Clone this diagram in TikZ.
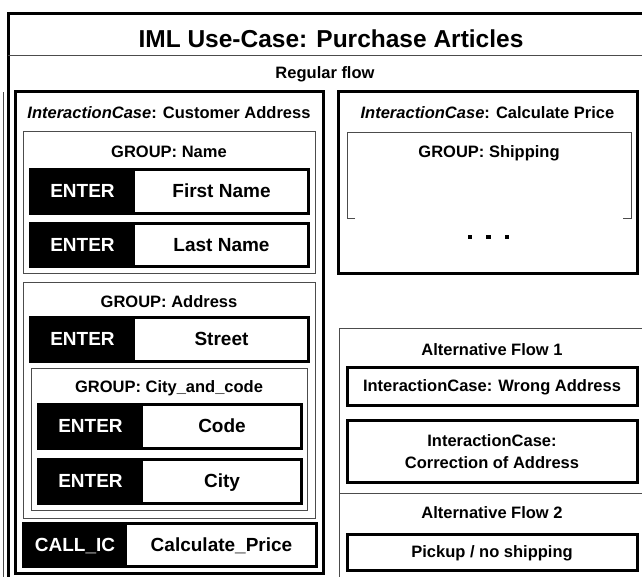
\documentclass[tikz,border=0pt]{standalone}
\usepackage{fontspec}
\setmainfont{Liberation Sans}
\begin{document}
\begin{tikzpicture}[x=1pt, y=-1pt, line join=miter,
  thickbox/.style={draw=black, line width=3pt},
  thinbox/.style={draw=black!70, line width=1pt},
  lbl/.style={font=\fontsize{16.5}{22}\selectfont\bfseries, inner sep=0pt,
    text height=11.8pt, text depth=0pt},
  titletxt/.style={font=\fontsize{24.5}{28}\selectfont\bfseries, inner sep=0pt,
    text height=17.5pt, text depth=0pt},
  fieldtxt/.style={font=\fontsize{19}{22}\selectfont\bfseries, inner sep=0pt,
    text height=13.6pt, text depth=0pt},
]
\newcommand\uifield[8]{% name, x1, y1, x-split, x2, y2, keyword, value
  \fill[black] (#2,#3) rectangle (#4,#6);
  \draw[thickbox] (#2,#3) rectangle (#5,#6);
  \node[fieldtxt, text=white] (#1-kw) at ({(#2+#4)/2},{(#3+#6)/2}) {#7};
  \node[fieldtxt] (#1-val) at ({(#4+#5)/2},{(#3+#6)/2}) {#8};
}
\useasboundingbox (0,0) rectangle (642,576);
\clip (0,0) rectangle (642,576);

% outer use-case frame
\draw[thickbox] (8,600) -- (8,13) -- (660,13);
\draw[thinbox] (3,92) -- (3,600);
\node[titletxt] (title) at (331,39) {IML Use-Case: Purchase Articles};
\draw[thinbox] (8,55) -- (660,55);
\node[lbl] (regular) at (325,73) {Regular flow};

% interaction case: customer address
\draw[thickbox] (15,91) rectangle (323,573);
\node[lbl] (icaddr) at (169,113) {\itshape InteractionCase\upshape: Customer Address};

\draw[thinbox] (23,131) rectangle (315,273);
\node[lbl] (gname) at (169,152) {GROUP: Name};
\uifield{first}{30}{169}{135}{308}{213}{ENTER}{First Name}
\uifield{last}{30}{223}{135}{308}{266}{ENTER}{Last Name}

\draw[thinbox] (23,282) rectangle (315,518);
\node[lbl] (gaddr) at (169,302) {GROUP: Address};
\uifield{street}{30}{317}{135}{308}{361}{ENTER}{Street}

\draw[thinbox] (31,368) rectangle (307,510);
\node[lbl] (gcity) at (169,387) {GROUP: City\_and\_code};
\uifield{code}{38}{404}{143}{301}{448}{ENTER}{Code}
\uifield{city}{38}{459}{143}{301}{503}{ENTER}{City}

\uifield{call}{23}{523}{127}{316}{566}{CALL\_IC}{Calculate\_Price}

% interaction case: calculate price
\draw[thickbox] (338,91) rectangle (637,273);
\node[lbl] (icprice) at (487.5,113) {\itshape InteractionCase\upshape: Calculate Price};
\draw[thinbox] (355,218) -- (347,218) -- (347,132) -- (631,132) -- (631,218) -- (623,218);
\node[lbl] (gship) at (489,152) {GROUP: Shipping};
\foreach \dx in {470,488.5,507}
  \fill (\dx-2.2,235) rectangle (\dx+2.2,239.4);

% alternative flows
\draw[thinbox] (339,600) -- (339,328) -- (660,328);
\node[lbl] (alt1) at (492,350) {Alternative Flow 1};
\draw[thickbox] (347,367) rectangle (637,405);
\node[lbl] (wrong) at (492,386) {InteractionCase: Wrong Address};
\draw[thickbox] (347,420) rectangle (637,482);
\node[lbl] (corr1) at (492,441) {InteractionCase:};
\node[lbl] (corr2) at (492,463) {Correction of Address};
\draw[thinbox] (339,493) -- (660,493);
\node[lbl] (alt2) at (492,513) {Alternative Flow 2};
\draw[thickbox] (347,534) rectangle (637,570);
\node[lbl] (pickup) at (492,552) {Pickup / no shipping};
\end{tikzpicture}
\end{document}
